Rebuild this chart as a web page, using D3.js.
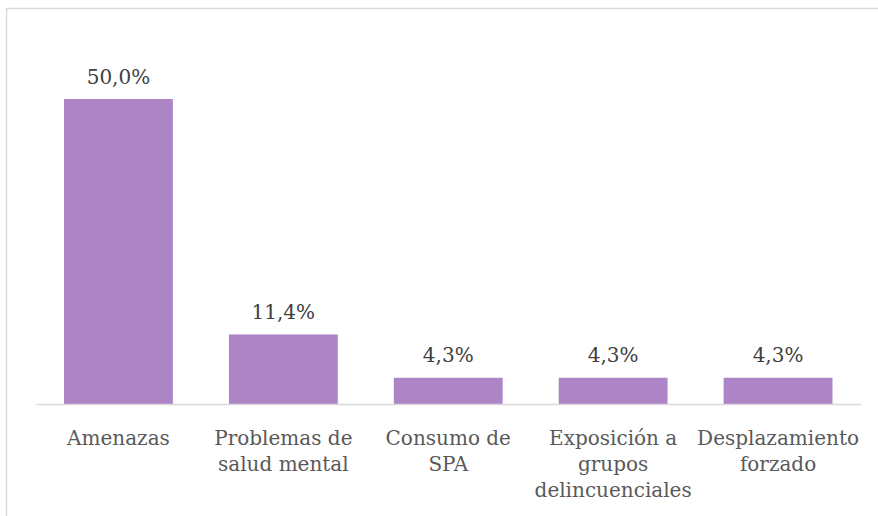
<!DOCTYPE html>
<html>
<head>
<meta charset="utf-8">
<script src="https://cdn.jsdelivr.net/npm/d3@7"></script>
<style>
  body { margin: 0; background: #fff; }
</style>
</head>
<body>
<div id="chart"></div>
<script>
var categories = ['Amenazas', 'Problemas de salud mental', 'Consumo de SPA', 'Exposición a grupos delincuenciales', 'Desplazamiento forzado'];
var labelLines = [['Amenazas'], ['Problemas de', 'salud mental'], ['Consumo de', 'SPA'], ['Exposición a', 'grupos', 'delincuenciales'], ['Desplazamiento', 'forzado']];
var values = [0.500, 0.114, 0.043, 0.043, 0.043];

var W = 878, H = 516;
var margin = {top: 99, right: 17.5, bottom: 112, left: 36};
var width = W - margin.left - margin.right;
var height = H - margin.top - margin.bottom;
var serif = '"DejaVu Serif", serif';

var svg = d3.select('#chart').append('svg')
  .attr('width', W)
  .attr('height', H)
  .style('font-family', serif);

// chart frame
svg.append('rect')
  .attr('x', 6.5)
  .attr('y', 8.5)
  .attr('width', W + 10)
  .attr('height', H + 10)
  .attr('fill', 'none')
  .attr('stroke', '#d9d9d9')
  .attr('stroke-width', 1.5);

var g = svg.append('g')
  .attr('transform', 'translate(' + margin.left + ',' + margin.top + ')');

var x = d3.scaleBand()
  .domain(categories)
  .range([0, width])
  .paddingInner(0.34)
  .paddingOuter(0.17);

var y = d3.scaleLinear()
  .domain([0, 0.5])
  .range([height, 0]);

var fmt = function(v) { return d3.format('.1%')(v).replace('.', ','); };

g.selectAll('rect.bar')
  .data(values)
  .enter().append('rect')
  .attr('class', 'bar')
  .attr('x', function(d, i) { return x(categories[i]); })
  .attr('y', function(d) { return y(d); })
  .attr('width', x.bandwidth())
  .attr('height', function(d) { return height - y(d); })
  .attr('fill', '#ad84c6');

g.selectAll('text.val')
  .data(values)
  .enter().append('text')
  .attr('class', 'val')
  .attr('x', function(d, i) { return x(categories[i]) + x.bandwidth() / 2; })
  .attr('y', function(d) { return y(d) - 15.5; })
  .attr('text-anchor', 'middle')
  .attr('font-family', serif)
  .attr('font-size', '20px')
  .attr('fill', '#404040')
  .text(function(d) { return fmt(d); });

// x axis
var xAxis = g.append('g')
  .attr('transform', 'translate(0,' + height + ')')
  .call(d3.axisBottom(x).tickSize(0).tickFormat(''))
  .attr('font-family', serif);
xAxis.select('.domain').attr('stroke', '#d9d9d9').attr('stroke-width', 1.5);

var cat = xAxis.selectAll('.tick').append('text')
  .attr('text-anchor', 'middle')
  .attr('font-family', serif)
  .attr('font-size', '20px')
  .attr('fill', '#595959')
  .attr('y', 41);

cat.each(function(d, i) {
  var t = d3.select(this);
  labelLines[i].forEach(function(line, j) {
    t.append('tspan')
      .attr('x', 0)
      .attr('dy', j === 0 ? 0 : 26)
      .text(line);
  });
});
</script>
</body>
</html>
